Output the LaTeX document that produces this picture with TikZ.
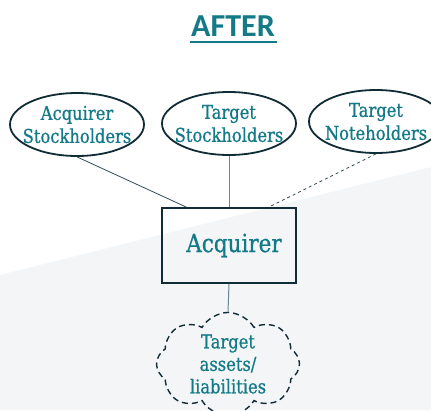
\documentclass[tikz,border=0pt]{standalone}
\usepackage{fontspec}
\setmainfont{DejaVu Serif}[FakeStretch=0.86,FakeBold=0.8]
\newfontfamily\titlefont{Carlito}
\usetikzlibrary{shapes,shapes.geometric,shapes.symbols}

\definecolor{tealtxt}{RGB}{20,122,136}
\definecolor{darkline}{RGB}{16,44,54}
\definecolor{greyline}{RGB}{105,134,142}
\definecolor{bggray}{RGB}{243,245,247}

\tikzset{
    holder/.style={ellipse,draw=darkline,line width=1.8pt,minimum width=134,
        minimum height=63,inner xsep=-9pt,inner ysep=-2pt,align=center,
        text=tealtxt,font=\fontsize{19}{23}\selectfont},
    company/.style={rectangle,draw=darkline,line width=1.8pt,minimum width=134,
        minimum height=75,inner sep=0pt,text=tealtxt,
        font=\fontsize{25}{28}\selectfont},
    assetcloud/.style={cloud,cloud puffs=8,cloud puff arc=120,aspect=1.4,
        draw=darkline,line width=1.4pt,dashed,dash pattern=on 6pt off 4pt,
        minimum width=143,minimum height=95,inner sep=0pt,align=center,
        text=tealtxt,font=\fontsize{19}{22.5}\selectfont}
}

\begin{document}
\begin{tikzpicture}[x=1pt,y=-1pt]
        \useasboundingbox (0,0) rectangle (431,410);
        \fill[white] (0,0) rectangle (431,410);
        \fill[bggray] (0,275) -- (431,167) -- (431,410) -- (0,410) -- cycle;
        % Title
        \node[text=tealtxt,font=\titlefont\bfseries\fontsize{32}{36}\selectfont]
            (title) at (233,26) {AFTER};
        \draw[tealtxt,line width=2pt] (190,42) -- (277,42);
        %% Holders above the acquirer
        \node[holder] (acqsh) at (77,124.5) {Acquirer\\Stockholders};
        \node[holder] (tgtsh) at (229,123.5) {Target\\Stockholders};
        \node[holder] (tgtnh) at (376,121.5) {Target\\Noteholders};
        \node[company] (acq) at (229,245.5) {\hspace*{10pt}\raisebox{-4pt}{Acquirer}};
        \node[assetcloud] (assets) at (228,364) {Target\\assets/\\liabilities};
        % Connect holders
        \draw[darkline!85,line width=0.8pt] (acqsh.south) -- (acq.138)
        ;
        \draw[greyline,line width=1pt] (tgtsh.south) -- (acq.north)
        ;
        \draw[darkline!85,line width=0.8pt,dashed] (tgtnh.south) -- (acq.44)
        ;
        \draw[greyline,line width=1pt] (acq.south) -- (assets.north)
        ;

    \end{tikzpicture}
\end{document}
